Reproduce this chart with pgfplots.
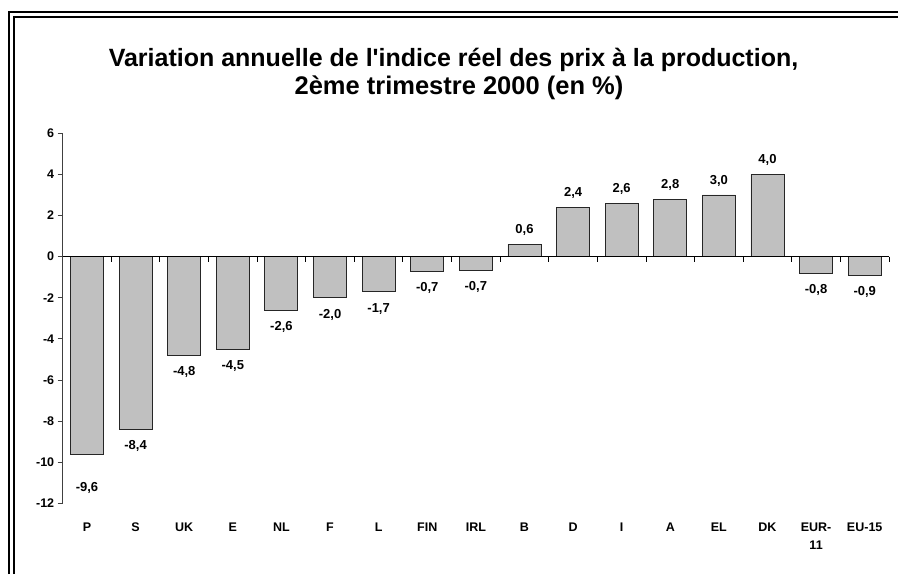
\documentclass[border=0pt]{standalone}
\usepackage{pgfplots}
\pgfplotsset{compat=1.18}
\usepackage{fontspec}
\setmainfont{Liberation Sans}[Ligatures=TeXOff]
\definecolor{barfill}{HTML}{C0C0C0}
\begin{document}
\begin{tikzpicture}[x=1pt,y=1pt]
\useasboundingbox (0,0) rectangle (898,574);
\draw[line width=1.2pt] (9,0) -- (9,562) -- (898,562);
\draw[line width=1.2pt] (14,0) -- (14,557) -- (898,557);
\node[anchor=base,font=\fontsize{25}{30}\selectfont\bfseries] at (453.5,507) {Variation annuelle de l'indice réel des prix à la production,};
\node[anchor=base,font=\fontsize{25.5}{30}\selectfont\bfseries] at (459,479) {2ème trimestre 2000 (en \%)};
\begin{axis}[
  at={(62.7pt,70.7pt)}, anchor=south west,
  scale only axis, width=826.3pt, height=370pt,
  ymin=-12, ymax=6, ytick={-12,-10,...,6},
  xmin=-0.5, xmax=16.5,
  axis y line=left, axis x line=bottom,
  x axis line style={draw=none},
  y axis line style={-, black!75, line width=0.9pt},
  xtick={0,...,16},
  xticklabels={P,S,UK,E,NL,F,L,FIN,IRL,B,D,I,A,EL,DK,{\begin{tabular}[t]{@{}c@{}}EUR-\\[4pt]11\end{tabular}},EU-15},
  xtick style={draw=none},
  xticklabel style={anchor=base, yshift=-23pt, font=\fontsize{12.5}{14}\selectfont\bfseries},
  ytick style={black!75, line width=0.9pt},
  tick align=outside, major tick length=5pt,
  yticklabel style={anchor=east, font=\fontsize{12.5}{14}\selectfont\bfseries, /pgf/number format/assume math mode=true},
  ybar, bar width=33pt, bar shift=0pt,
  nodes near coords={\pgfmathprintnumber[fixed,fixed zerofill,precision=1,use comma,assume math mode=true]{\pgfplotspointmeta}},
  point meta=y,
  every node near coord/.append style={anchor=center, font=\fontsize{13}{15}\selectfont\bfseries, black},
  coordinate style/.condition={y>=0}{yshift=14pt},
  coordinate style/.condition={y<0}{yshift=-17pt},
  coordinate style/.condition={x==0}{yshift=-17pt},
  clip=false,
]
\addplot[fill=barfill, draw=black!85, line width=0.9pt] coordinates {
(0,-9.6) (1,-8.4) (2,-4.8) (3,-4.5) (4,-2.6) (5,-2.0) (6,-1.7) (7,-0.7) (8,-0.65)
(9,0.6) (10,2.4) (11,2.6) (12,2.8) (13,3.0) (14,4.0) (15,-0.8) (16,-0.9)};
\draw[black, line width=0.9pt] (axis cs:-0.5,0) -- (axis cs:16.5,0);
\pgfplotsinvokeforeach{0.5,1.5,...,16.5}{\draw[black, line width=0.9pt] (axis cs:#1,0) -- ([yshift=-5pt]axis cs:#1,0);}
\end{axis}
\end{tikzpicture}
\end{document}
